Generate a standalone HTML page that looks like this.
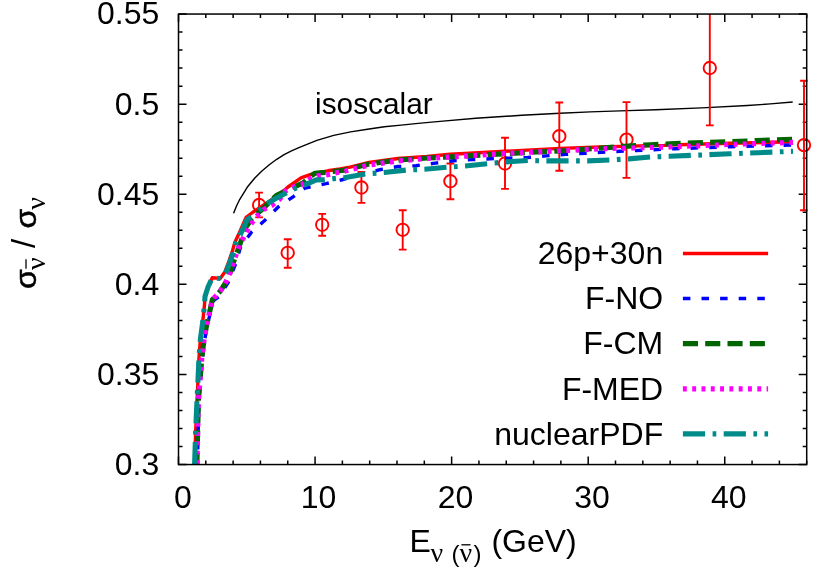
<!DOCTYPE html>
<html><head><meta charset="utf-8"><title>plot</title>
<style>
html,body{margin:0;padding:0;background:#fff;}
svg{display:block;will-change:transform;}
text{font-family:"Liberation Sans",sans-serif;fill:#000;}
.sy{font-family:"Liberation Serif",serif;}
</style></head><body>
<svg width="830" height="575" viewBox="0 0 830 575">
<rect width="830" height="575" fill="#fff"/>
<defs><clipPath id="cp"><rect x="178.5" y="14.05" width="629.1" height="450.5"/></clipPath></defs>

<path d="M178.50,464.55v-8M178.50,14.05v8M205.81,464.55v-4M205.81,14.05v4M233.13,464.55v-4M233.13,14.05v4M260.44,464.55v-4M260.44,14.05v4M287.75,464.55v-4M287.75,14.05v4M315.07,464.55v-8M315.07,14.05v8M342.38,464.55v-4M342.38,14.05v4M369.69,464.55v-4M369.69,14.05v4M397.00,464.55v-4M397.00,14.05v4M424.32,464.55v-4M424.32,14.05v4M451.63,464.55v-8M451.63,14.05v8M478.94,464.55v-4M478.94,14.05v4M506.26,464.55v-4M506.26,14.05v4M533.57,464.55v-4M533.57,14.05v4M560.88,464.55v-4M560.88,14.05v4M588.20,464.55v-8M588.20,14.05v8M615.51,464.55v-4M615.51,14.05v4M642.82,464.55v-4M642.82,14.05v4M670.13,464.55v-4M670.13,14.05v4M697.45,464.55v-4M697.45,14.05v4M724.76,464.55v-8M724.76,14.05v8M752.07,464.55v-4M752.07,14.05v4M779.39,464.55v-4M779.39,14.05v4M806.70,464.55v-4M806.70,14.05v4M178.5,464.55h8M806.7,464.55h-8M178.5,446.53h4M806.7,446.53h-4M178.5,428.51h4M806.7,428.51h-4M178.5,410.49h4M806.7,410.49h-4M178.5,392.47h4M806.7,392.47h-4M178.5,374.45h8M806.7,374.45h-8M178.5,356.43h4M806.7,356.43h-4M178.5,338.41h4M806.7,338.41h-4M178.5,320.39h4M806.7,320.39h-4M178.5,302.37h4M806.7,302.37h-4M178.5,284.35h8M806.7,284.35h-8M178.5,266.33h4M806.7,266.33h-4M178.5,248.31h4M806.7,248.31h-4M178.5,230.29h4M806.7,230.29h-4M178.5,212.27h4M806.7,212.27h-4M178.5,194.25h8M806.7,194.25h-8M178.5,176.23h4M806.7,176.23h-4M178.5,158.21h4M806.7,158.21h-4M178.5,140.19h4M806.7,140.19h-4M178.5,122.17h4M806.7,122.17h-4M178.5,104.15h8M806.7,104.15h-8M178.5,86.13h4M806.7,86.13h-4M178.5,68.11h4M806.7,68.11h-4M178.5,50.09h4M806.7,50.09h-4M178.5,32.07h4M806.7,32.07h-4M178.5,14.05h8M806.7,14.05h-8" stroke="#000" stroke-width="1.5" fill="none"/>
<polyline points="233.6,213.3 236.5,206.0 239.8,199.3 247.2,187.3 254.6,178.2 261.9,171.0 269.3,164.8 276.7,159.3 284.1,154.6 291.5,150.9 298.9,147.6 306.3,144.7 316.9,140.4 333.7,135.4 350.6,131.9 367.5,129.2 384.3,126.8 401.2,125.1 418.1,123.4 440.0,121.4 475.8,118.3 521.6,115.3 560.0,113.3 590.3,111.9 620.0,110.9 655.8,109.8 701.6,107.9 747.4,105.5 770.3,103.9 792.7,102.0" fill="none" stroke="#000" stroke-width="1.4" stroke-linejoin="round"/>
<g stroke="#f00" stroke-width="1.9" fill="none">
<g clip-path="url(#cp)"><path d="M259.1,192.6V217.4M255.20000000000002,192.6h7.8M255.20000000000002,217.4h7.8"/></g><circle cx="259.1" cy="205" r="6.2"/>
<g clip-path="url(#cp)"><path d="M287.7,239.2V267.8M283.8,239.2h7.8M283.8,267.8h7.8"/></g><circle cx="287.7" cy="252.8" r="6.2"/>
<g clip-path="url(#cp)"><path d="M322.2,213.9V235.8M318.3,213.9h7.8M318.3,235.8h7.8"/></g><circle cx="322.2" cy="224.8" r="6.2"/>
<g clip-path="url(#cp)"><path d="M361.4,172V202.9M357.5,172h7.8M357.5,202.9h7.8"/></g><circle cx="361.4" cy="187.5" r="6.2"/>
<g clip-path="url(#cp)"><path d="M402.7,210.3V249.6M398.8,210.3h7.8M398.8,249.6h7.8"/></g><circle cx="402.7" cy="229.8" r="6.2"/>
<g clip-path="url(#cp)"><path d="M450.4,163.5V199.3M446.5,163.5h7.8M446.5,199.3h7.8"/></g><circle cx="450.4" cy="181.2" r="6.2"/>
<g clip-path="url(#cp)"><path d="M505,137.8V188.9M501.1,137.8h7.8M501.1,188.9h7.8"/></g><circle cx="505" cy="163.5" r="6.2"/>
<g clip-path="url(#cp)"><path d="M559.3,102.5V170.7M555.4,102.5h7.8M555.4,170.7h7.8"/></g><circle cx="559.3" cy="136.2" r="6.2"/>
<g clip-path="url(#cp)"><path d="M626.5,102.1V177.9M622.6,102.1h7.8M622.6,177.9h7.8"/></g><circle cx="626.5" cy="139.6" r="6.2"/>
<g clip-path="url(#cp)"><path d="M709.8,-20V125.4M705.9,-20h7.8M705.9,125.4h7.8"/></g><circle cx="709.8" cy="68" r="6.2"/>
<g clip-path="url(#cp)"><path d="M804,80.7V210.3M800.1,80.7h7.8M800.1,210.3h7.8"/></g><circle cx="804" cy="145.1" r="6.2"/>
</g>
<polyline points="194.6,464.5 195.7,430.0 197.0,400.0 198.0,380.0 198.9,359.0 200.3,340.0 202.5,323.6 204.4,306.0 205.0,296.6 208.0,287.0 212.3,277.8 220.2,278.4 225.0,271.7 229.0,261.0 232.4,251.0 234.8,242.4 238.3,235.1 246.1,217.4 253.2,212.0 260.0,207.5 266.8,203.0 272.5,198.8 284.0,190.5 288.0,187.0 301.0,177.8 310.0,174.6 314.5,173.4 327.8,170.8 340.0,169.0 350.0,167.1 369.0,162.5 398.0,158.5 427.0,156.5 450.0,154.2 460.0,153.8 505.0,151.3 560.0,148.4 600.0,147.0 639.5,145.9 664.0,145.4 670.0,145.0 730.0,143.3 793.0,141.7" fill="none" stroke="#f00" stroke-width="3.4" stroke-linejoin="round"/>
<polyline points="197.4,464.5 198.9,400.0 200.7,380.0 202.3,359.0 204.7,340.0 207.7,323.6 211.5,308.2 213.5,300.7 219.0,296.6 228.1,282.6 235.4,264.4 240.6,246.9 251.6,232.0 264.9,220.3 278.2,207.0 293.1,196.8 305.0,188.0 326.0,183.7 343.0,179.5 379.7,169.7 398.2,166.5 416.0,165.7 435.4,163.1 453.5,160.7 472.0,159.6 490.5,158.8 509.3,158.1 527.7,157.5 546.1,155.9 565.7,154.4 620.0,151.3 675.7,148.7 730.0,146.8 793.0,144.9" fill="none" stroke="#00f" stroke-width="3.4" stroke-dasharray="7.5 11.1" stroke-dashoffset="3.5" stroke-linejoin="round"/>
<polyline points="196.9,464.5 198.4,400.0 200.1,380.0 201.7,359.0 204.0,340.0 206.9,323.6 210.5,308.2 212.3,299.7 220.2,291.2 225.7,282.6 230.0,272.9 234.8,258.3 239.7,244.9 246.0,227.0 253.0,217.0 262.6,209.0 276.6,195.2 297.0,185.8 303.7,182.5 310.5,176.4 315.0,173.2 325.0,172.4 344.0,170.3 369.0,164.0 398.0,160.0 427.0,158.0 450.0,156.9 505.0,153.7 570.0,150.4 628.0,146.1 651.0,144.7 680.0,143.3 730.0,141.6 793.0,139.2" fill="none" stroke="#006400" stroke-width="5.1" stroke-dasharray="15.1 7.2" stroke-dashoffset="3.1" stroke-linejoin="round"/>
<polyline points="196.9,464.5 198.4,400.0 200.1,380.0 201.7,359.0 204.0,340.0 206.9,323.6 210.5,308.2 212.3,299.7 220.2,291.2 225.7,282.6 230.0,272.9 234.8,258.3 239.7,244.9 242.2,240.0 249.3,226.7 256.3,216.6 264.1,209.3 271.9,205.4 279.6,199.3 285.4,191.1 292.7,187.3 301.8,184.9 309.5,179.1 318.2,175.7 327.8,174.8 336.5,172.8 345.7,170.9 369.0,165.0 398.0,161.0 427.0,158.5 457.0,156.6 505.0,153.5 568.0,150.4 610.0,148.5 670.0,146.9 730.0,144.5 793.0,142.4" fill="none" stroke="#f0f" stroke-width="5.1" stroke-dasharray="3.9 5.4" stroke-dashoffset="-0.7" stroke-linejoin="round"/>
<polyline points="194.6,464.5 195.7,430.0 197.0,400.0 198.0,380.0 198.9,359.0 200.3,340.0 202.5,323.6 204.4,306.0 205.0,296.6 208.0,287.0 212.3,277.8 220.8,278.6 226.0,272.2 230.2,261.4 233.6,251.4 235.8,243.2 239.6,236.2 247.3,219.3 253.0,215.6 255.7,213.3" fill="none" stroke="#008b8b" stroke-width="5.1" stroke-dasharray="22.2 7.5 3.7 7.4" stroke-dashoffset="-0.3" stroke-linejoin="round"/>
<polyline points="255.7,213.3 260.0,209.6 266.8,203.7 277.0,197.8 286.9,192.5 294.6,188.7 303.7,185.4 316.3,179.9 324.5,179.6 334.0,178.6 344.2,177.7 365.3,174.0 384.1,172.5 405.8,170.1 424.6,169.3 447.0,167.2 465.2,166.0 487.9,163.7 505.7,161.9 528.1,160.5 546.6,160.9 587.5,160.9 609.9,159.9 628.7,158.9 650.4,157.0 669.2,156.3 730.0,153.8 793.0,151.3" fill="none" stroke="#008b8b" stroke-width="5.1" stroke-dasharray="22.2 7.5 3.7 7.4" stroke-dashoffset="25.59" stroke-linejoin="round"/>
<rect x="178.5" y="14.05" width="628.2" height="450.5" fill="none" stroke="#000" stroke-width="1.5"/>
<text x="663.2" y="264.2" font-size="32" text-anchor="end">26p+30n</text>
<text x="663.2" y="309.2" font-size="32" text-anchor="end">F-NO</text>
<text x="663.2" y="354.3" font-size="32" text-anchor="end">F-CM</text>
<text x="663.2" y="399.59999999999997" font-size="32" text-anchor="end">F-MED</text>
<text x="663.2" y="444.59999999999997" font-size="32" text-anchor="end">nuclearPDF</text>
<path d="M682.9,253.5H768.1" stroke="#f00" stroke-width="3.4"/>
<path d="M682.9,298.5H768.1" stroke="#00f" stroke-width="3.4" stroke-dasharray="7.5 11.1"/>
<path d="M682.9,343.6H768.1" stroke="#006400" stroke-width="5.1" stroke-dasharray="15.1 7.2"/>
<path d="M682.9,388.9H768.1" stroke="#f0f" stroke-width="5.1" stroke-dasharray="3.9 5.4"/>
<path d="M682.9,433.9H768.1" stroke="#008b8b" stroke-width="5.1" stroke-dasharray="22.2 7.5 3.7 7.4"/>
<text x="315.1" y="113.9" font-size="29.8">isoscalar</text>
<text x="159.3" y="474.9" font-size="32" text-anchor="end">0.3</text>
<text x="159.3" y="384.9" font-size="32" text-anchor="end">0.35</text>
<text x="159.3" y="294.7" font-size="32" text-anchor="end">0.4</text>
<text x="159.3" y="204.6" font-size="32" text-anchor="end">0.45</text>
<text x="159.3" y="114.5" font-size="32" text-anchor="end">0.5</text>
<text x="159.3" y="24.4" font-size="32" text-anchor="end">0.55</text>
<text x="182.9" y="507.5" font-size="32" text-anchor="middle">0</text>
<text x="318.5" y="507.5" font-size="32" text-anchor="middle">10</text>
<text x="455.5" y="507.5" font-size="32" text-anchor="middle">20</text>
<text x="592.1" y="507.5" font-size="32" text-anchor="middle">30</text>
<text x="728.7" y="507.5" font-size="32" text-anchor="middle">40</text>
<text x="409.6" y="552.4" font-size="32">E</text>
<text class="sy" x="430.4" y="561.5" font-size="28">ν</text>
<text x="451.5" y="561.5" font-size="24">(</text>
<text class="sy" x="459.5" y="561.5" font-size="28">ν</text>
<path d="M461.4,544.8H470.5" stroke="#000" stroke-width="1.3"/>
<text x="473.5" y="561.5" font-size="24">)</text>
<text x="491.4" y="552.4" font-size="32">(GeV)</text>
<g transform="translate(35.8,288.3) rotate(-90)">
<text transform="translate(-0.6,0) scale(1.1,1)" x="0" y="0" font-size="29" stroke="#000" stroke-width="0.5">σ</text>
<text class="sy" x="18.2" y="9" font-size="28">ν</text>
<path d="M19.5,-9.8H29" stroke="#000" stroke-width="1.3"/>
<text x="40.3" y="-0.8" font-size="33">/</text>
<text transform="translate(59.8,0) scale(1.1,1)" x="0" y="0" font-size="29" stroke="#000" stroke-width="0.5">σ</text>
<text class="sy" x="78.6" y="9" font-size="28">ν</text>
</g>
</svg></body></html>
